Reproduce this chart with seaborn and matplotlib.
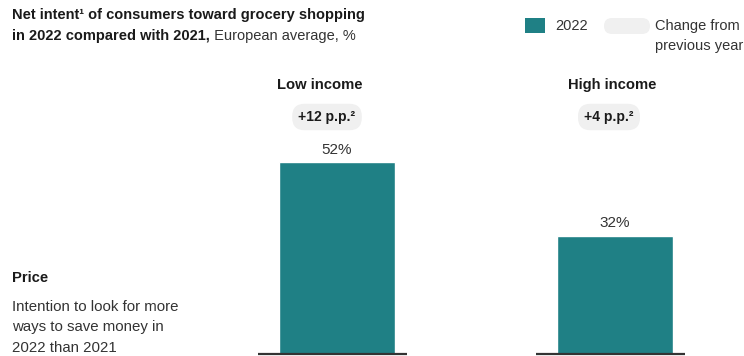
import matplotlib
matplotlib.use("Agg")
import matplotlib.pyplot as plt
from matplotlib.patches import FancyBboxPatch, Rectangle
from matplotlib.transforms import IdentityTransform
import seaborn as sns
import pandas as pd

# data
categories = ["Low income", "High income"]
values_2022 = [52, 32]
changes = ["+12 p.p.\u00b2", "+4 p.p.\u00b2"]

TEAL = "#1f8085"
PILL = "#f0f0f0"
DARK = "#1a1a1a"
GREY = "#333333"

sns.set_style("white")
plt.rcParams["font.family"] = ["Liberation Sans", "DejaVu Sans"]

W, H = 744, 356
fig = plt.figure(figsize=(W / 100, H / 100), dpi=100)

# axes mapped so that 1 data unit on x = 278 px, 1 % on y = 3.69 px
px_x = 278.0
px_y = 3.69
ax = fig.add_axes([0, 2 / H, 1, (H - 2) / H])
df = pd.DataFrame({"group": categories, "value": values_2022})
sns.barplot(data=df, x="group", y="value", color=TEAL, saturation=1,
            width=116 / px_x, ax=ax)
ax.set_xlim(-337 / px_x, -337 / px_x + W / px_x)
ax.set_ylim(0, (H - 2) / px_y)
ax.axis("off")

for i, (v, ch, cat) in enumerate(zip(values_2022, changes, categories)):
    # baseline under each bar
    ax.hlines(0, i - 79 / px_x, i + 70 / px_x, color=GREY, lw=1.6,
              clip_on=False)
    ax.annotate(f"{v}%", (i, v), xytext=(0, 4), textcoords="offset points",
                ha="center", va="bottom", fontsize=11, color=GREY)
    hx = i - (17 if i == 0 else 3) / px_x
    ax.text(hx, (H - 2 - 85) / px_y, cat, ha="center", va="center",
            fontsize=10.6, fontweight="bold", color=DARK)
    px = i - (10 if i == 0 else 6) / px_x
    ax.text(px, (H - 2 - 117) / px_y, ch, ha="center", va="center",
            fontsize=10, fontweight="bold", color=DARK,
            bbox=dict(boxstyle="round,pad=0.45,rounding_size=0.9",
                      fc=PILL, ec="none"))

# title
fig.text(12 / W, 1 - 15 / H, "Net intent\u00b9 of consumers toward grocery shopping",
         ha="left", va="center", fontsize=10.5, fontweight="bold", color=DARK)
t2 = fig.text(12 / W, 1 - 36 / H, "in 2022 compared with 2021,",
              ha="left", va="center", fontsize=10.5, fontweight="bold", color=DARK)
ax.annotate(" European average, %", xy=(1, 0), xycoords=t2, ha="left",
            va="bottom", fontsize=10.5, color=GREY, annotation_clip=False)

# legend (pixel coordinates, origin bottom-left)
fig.patches.append(Rectangle((525, H - 33), 20, 15, transform=IdentityTransform(),
                             fc=TEAL, ec="none"))
fig.text(555 / W, 1 - 26 / H, "2022", ha="left", va="center", fontsize=10.5,
         color=GREY)
fig.patches.append(FancyBboxPatch((604, H - 34), 46, 16,
                                  boxstyle="round,pad=0,rounding_size=8",
                                  transform=IdentityTransform(), fc=PILL,
                                  ec="none"))
fig.text(655 / W, 1 - 26 / H, "Change from", ha="left", va="center",
         fontsize=10.5, color=GREY)
fig.text(655 / W, 1 - 46 / H, "previous year", ha="left", va="center",
         fontsize=10.5, color=GREY)

# left side note
fig.text(12 / W, 1 - 278 / H, "Price", ha="left", va="center", fontsize=10.6,
         fontweight="bold", color=DARK)
for k, line in enumerate(["Intention to look for more", "ways to save money in",
                          "2022 than 2021"]):
    fig.text(12 / W, 1 - (307 + 20.5 * k) / H, line, ha="left", va="center",
             fontsize=10.8, color=GREY)

fig.savefig("out.png", dpi=100, facecolor="white")
